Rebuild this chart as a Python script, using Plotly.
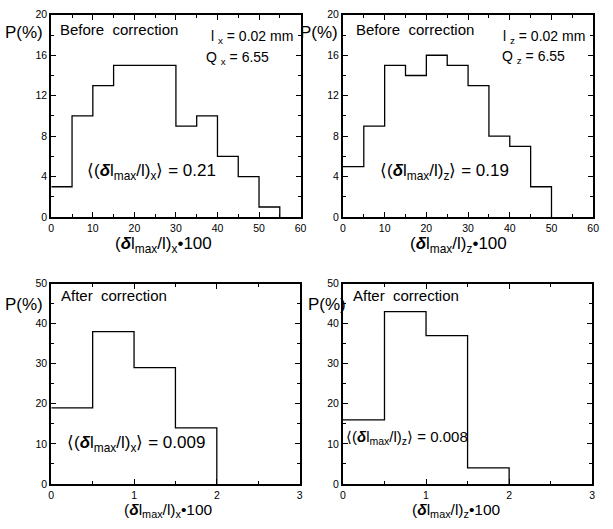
import plotly.graph_objects as go

W, H = 613, 529

# Data
edges_before = [0, 5, 10, 15, 20, 25, 30, 35, 40, 45, 50, 55]
p_before_x = [3, 10, 13, 15, 15, 15, 9, 10, 6, 4, 1]
edges_before_z = [0, 5, 10, 15, 20, 25, 30, 35, 40, 45, 50]
p_before_z = [5, 9, 15, 14, 16, 15, 13, 8, 7, 3]
edges_after = [0, 0.5, 1.0, 1.5, 2.0]
p_after_x = [19, 38, 29, 14]
p_after_z = [16, 43, 37, 4]

FONT = "Liberation Sans, Arial, sans-serif"

def px(x):
    return x / W

def py(y):
    return 1 - y / H

panels = [
    # (xaxis, yaxis, x-domain px, y-domain px, xrange, yrange, xdtick, xminor, ydtick, yminor)
    ("x", "y", (49, 302), (9, 216), [0, 60], [0, 20], 10, 5, 4, 2),
    ("x2", "y2", (345, 599), (9, 216), [0, 60], [0, 20], 10, 5, 4, 2),
    ("x3", "y3", (49, 301), (284, 489), [0, 3], [0, 50], 1, 0.5, 10, 5),
    ("x4", "y4", (345, 598), (284, 489), [0, 3], [0, 50], 1, 0.5, 10, 5),
]

series = [
    (edges_before, p_before_x),
    (edges_before_z, p_before_z),
    (edges_after, p_after_x),
    (edges_after, p_after_z),
]

fig = go.Figure()
for (xa, ya, *_), (edges, vals) in zip(panels, series):
    fig.add_trace(go.Scatter(
        x=edges, y=list(vals) + [0], mode="lines", line_shape="hv",
        line=dict(color="black", width=1.3), xaxis=xa, yaxis=ya,
        showlegend=False, hoverinfo="skip"))

layout = dict(
    width=W, height=H, margin=dict(l=0, r=0, t=0, b=0),
    paper_bgcolor="white", plot_bgcolor="white",
    font=dict(family=FONT, color="black"),
)
for xa, ya, xd, yd, xr, yr, xdt, xmin, ydt, ymin in panels:
    xkey = "xaxis" + xa[1:]
    ykey = "yaxis" + ya[1:]
    common = dict(showgrid=False, zeroline=False, showline=True, linecolor="black",
                  linewidth=2, mirror="allticks", ticks="inside", ticklen=5,
                  tickwidth=1, tickcolor="black",
                  tickfont=dict(size=10.5, family=FONT, color="black"), fixedrange=True)
    layout[xkey] = dict(common, domain=[px(xd[0]), px(xd[1])], range=xr, dtick=xdt, tick0=0,
                        anchor=ya,
                        minor=dict(dtick=xmin, ticks="inside", ticklen=3,
                                   tickcolor="black", showgrid=False))
    layout[ykey] = dict(common, domain=[py(yd[1]), py(yd[0])], range=yr, dtick=ydt, tick0=0,
                        anchor=xa, minor=dict(dtick=ymin, ticks="inside", ticklen=3,
                                              tickcolor="black", showgrid=False))
fig.update_layout(**layout)

def ann(text, x, y, size=14, xanchor="left"):
    fig.add_annotation(text=text, x=px(x), y=py(y), xref="paper", yref="paper",
                       xanchor=xanchor, yanchor="middle", showarrow=False,
                       font=dict(size=size, family=FONT, color="black"))

D = "<b><i>δ</i></b>"
# Top-left
ann("P(%)", 0, 27, 17)
ann("Before  correction", 56, 24, 15)
ann("l <sub>x</sub> = 0.02 mm", 296, 32, 14, "right")
ann("Q <sub>x</sub> = 6.55", 204, 53, 14)
ann(f"⟨({D}l<sub>max</sub>/l)<sub>x</sub>⟩ = 0.21", 83, 170, 17)
ann(f"({D}l<sub>max</sub>/l)<sub>x</sub>•100", 163, 245, 17, "center")
# Top-right
ann("P(%)", 299, 27, 17)
ann("Before  correction", 356, 24, 15)
ann("l <sub>z</sub> = 0.02 mm", 593, 32, 14, "right")
ann("Q <sub>z</sub> = 6.55", 504, 52, 14)
ann(f"⟨({D}l<sub>max</sub>/l)<sub>z</sub>⟩ = 0.19", 381, 170, 17)
ann(f"({D}l<sub>max</sub>/l)<sub>z</sub>•100", 462, 245, 17, "center")
# Bottom-left
ann("P(%)", 0, 305, 17)
ann("After  correction", 57, 296, 15)
ann(f"⟨({D}l<sub>max</sub>/l)<sub>x</sub>⟩ = 0.009", 63, 448, 17)
ann(f"({D}l<sub>max</sub>/l)<sub>x</sub>•100", 168, 516, 15.5, "center")
# Bottom-right
ann("P(%)", 308, 305, 17)
ann("After  correction", 353, 296, 15)
ann(f"⟨({D}l<sub>max</sub>/l)<sub>z</sub>⟩ = 0.008", 346, 442, 15)
ann(f"({D}l<sub>max</sub>/l)<sub>z</sub>•100", 460, 516, 15.5, "center")

fig.write_html("out.html", config={"displayModeBar": False},
               post_script="document.body.style.margin='0';document.body.style.padding='0';")
